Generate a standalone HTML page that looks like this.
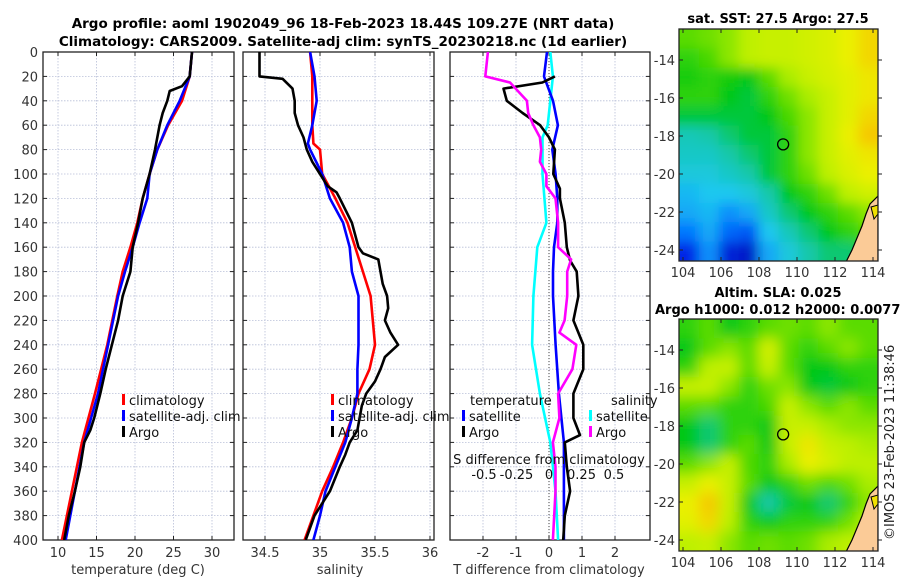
<!DOCTYPE html>
<html><head><meta charset="utf-8"><style>
html,body{margin:0;padding:0;background:#fff;}
svg{display:block;font-family:"DejaVu Sans","Liberation Sans",sans-serif;}
</style></head><body>
<svg id="fig" width="900" height="580" viewBox="0 0 900 580" xmlns="http://www.w3.org/2000/svg">
<defs>
<clipPath id="c1"><rect x="43" y="52" width="191" height="488"/></clipPath>
<clipPath id="c2"><rect x="243" y="52" width="191" height="488"/></clipPath>
<clipPath id="c3"><rect x="450" y="52" width="200" height="488"/></clipPath>
<clipPath id="cm1"><rect x="679" y="29" width="199" height="232"/></clipPath>
<clipPath id="cm2"><rect x="679" y="319" width="199" height="232"/></clipPath>
<filter id="bl1" x="-5%" y="-5%" width="110%" height="110%"><feGaussianBlur stdDeviation="6"/></filter>
<filter id="bl2" x="-5%" y="-5%" width="110%" height="110%"><feGaussianBlur stdDeviation="7"/></filter>
</defs>
<text x="343" y="28" text-anchor="middle" font-size="13.5" font-weight="bold">Argo profile: aoml 1902049_96 18-Feb-2023 18.44S 109.27E (NRT data)</text>
<text x="343" y="46" text-anchor="middle" font-size="13.5" font-weight="bold">Climatology: CARS2009. Satellite-adj clim: synTS_20230218.nc (1d earlier)</text>
<text x="778" y="23" text-anchor="middle" font-size="13" font-weight="bold">sat. SST: 27.5 Argo: 27.5</text>
<text x="778" y="297" text-anchor="middle" font-size="13" font-weight="bold">Altim. SLA: 0.025</text>
<text x="655" y="314" font-size="13" font-weight="bold">Argo h1000: 0.012 h2000: 0.0077</text>
<text transform="translate(894,540) rotate(-90)" font-size="13" fill="#222">©IMOS 23-Feb-2023 11:38:46</text>
<g id="layer"></g>
</svg>
<script>
// ---- Depth axis (shared) ----
const depthTicks = [0,20,40,60,80,100,120,140,160,180,200,220,240,260,280,300,320,340,360,380,400];
// ---- Temperature panel ----
const tempTicks = [10,15,20,25,30];
const tempDepths = [0,20,28,32,40,50,60,80,100,120,140,160,180,200,220,240,260,280,300,310,320,340,360,380,400];
const tempArgo = [27.4,27.1,26.1,24.5,24.2,23.6,23.2,22.6,21.9,21.0,20.4,19.7,19.4,18.4,17.8,17.0,16.2,15.5,14.7,14.2,13.4,12.9,12.2,11.4,10.8];
const tempClimDepths = [0,20,40,60,80,100,120,140,160,180,200,240,280,320,360,400];
const tempClim = [27.4,27.1,26.1,24.3,22.9,21.9,21.0,20.3,19.4,18.4,17.7,16.4,14.8,13.1,11.8,10.5];
const tempSat = [27.4,27.1,25.8,24.2,22.9,21.9,21.6,20.6,19.7,18.7,17.8,16.5,15.2,13.4,12.2,11.0];
// ---- Salinity panel ----
const salTicks = [34.5,35,35.5,36];
const salArgoDepths = [0,20,22,30,40,50,60,70,80,90,100,110,115,120,140,160,165,170,180,190,200,210,220,230,240,250,260,270,280,290,300,310,320,330,340,360,380,400];
const salArgo = [34.45,34.45,34.66,34.75,34.77,34.77,34.80,34.85,34.88,34.93,35.0,35.07,35.15,35.18,35.29,35.35,35.39,35.53,35.55,35.57,35.61,35.62,35.59,35.64,35.71,35.59,35.55,35.5,35.42,35.38,35.36,35.34,35.27,35.23,35.18,35.09,34.95,34.87];
const salClimDepths = [0,20,40,60,75,80,100,120,140,160,180,200,220,240,260,280,300,320,340,360,380,400];
const salClim = [34.91,34.93,34.93,34.93,34.94,35.0,35.02,35.14,35.25,35.32,35.39,35.46,35.48,35.5,35.45,35.35,35.29,35.21,35.12,35.02,34.94,34.86];
const salSat = [34.91,34.95,34.97,34.93,34.89,34.91,35.02,35.09,35.21,35.27,35.29,35.35,35.35,35.35,35.34,35.34,35.29,35.23,35.14,35.05,35.0,34.94];
// ---- Difference panel ----
const tdiffTicks = [-2,-1,0,1,2];
const sdiffTicks = [-0.5,-0.25,0,0.25,0.5];
const sdiffLabels = ["-0.5","-0.25","0","0.25","0.5"];
const tSatDepths = [0,20,40,60,80,100,120,140,160,180,200,240,280,320,360,400];
const tSatDiff = [-0.06,-0.15,0.12,0.27,0.1,0.2,0.25,0.25,0.15,0.12,0.12,0.2,0.3,0.45,0.45,0.45];
const tArgoDepths = [20,25,30,40,50,60,70,80,100,112,120,140,160,171,180,200,220,240,260,280,300,314,320,340,360,380,400];
const tArgoDiff = [0.18,-0.2,-1.38,-1.28,-0.8,-0.27,0.0,0.18,0.13,0.33,0.33,0.48,0.54,0.64,0.84,0.89,0.74,1.04,1.04,0.74,0.74,0.94,0.48,0.54,0.64,0.48,0.43];
const sArgoDepths = [0,20,25,40,50,60,70,80,90,100,110,120,140,160,170,180,200,220,230,240,260,280,300,320,340,360,400];
const sArgoDiff = [-0.47,-0.49,-0.3,-0.17,-0.16,-0.12,-0.07,-0.06,-0.07,-0.02,-0.02,0.05,0.07,0.07,0.17,0.14,0.14,0.12,0.08,0.21,0.18,0.07,0.08,0.03,0.05,0.05,0.03];
const sSatDepths = [0,20,40,60,70,80,100,140,160,200,240,280,320,360,400];
const sSatDiff = [0.01,0.03,0.01,-0.01,-0.05,-0.05,-0.05,-0.02,-0.09,-0.12,-0.13,-0.07,0.01,0.05,0.07];
// ---- Maps (heatmap cells, rows lat -13..-24, cols lon 104..114) ----
const sstGrid = [
[.60,.62,.65,.70,.72,.72,.74,.76,.80,.85],
[.55,.58,.65,.70,.72,.72,.74,.76,.80,.85],
[.52,.55,.52,.50,.60,.68,.72,.75,.78,.82],
[.55,.55,.50,.48,.55,.62,.68,.72,.78,.82],
[.48,.48,.48,.48,.50,.58,.65,.72,.78,.85],
[.40,.42,.45,.48,.48,.55,.65,.72,.80,.88],
[.38,.38,.42,.45,.48,.55,.65,.72,.78,.82],
[.35,.35,.38,.42,.48,.55,.62,.70,.76,.80],
[.30,.32,.32,.35,.42,.50,.55,.62,.70,.74],
[.28,.30,.25,.28,.38,.45,.50,.55,.60,.65],
[.22,.28,.20,.18,.32,.40,.45,.50,.55,.60],
[.12,.25,.10,.08,.28,.35,.42,.45,.45,.50]];
const slaGrid = [
[.55,.60,.50,.55,.60,.62,.60,.65,.60,.60],
[.50,.60,.65,.60,.75,.60,.55,.60,.65,.60],
[.55,.70,.72,.60,.72,.60,.50,.50,.55,.55],
[.72,.72,.65,.55,.62,.65,.50,.48,.50,.55],
[.60,.60,.55,.55,.58,.72,.65,.60,.65,.60],
[.50,.45,.55,.55,.50,.72,.72,.68,.65,.65],
[.50,.45,.55,.60,.50,.72,.82,.72,.70,.68],
[.60,.65,.72,.58,.55,.68,.80,.75,.70,.70],
[.72,.80,.72,.60,.50,.55,.62,.58,.62,.68],
[.80,.88,.72,.50,.42,.48,.50,.45,.55,.65],
[.78,.85,.70,.55,.50,.55,.55,.55,.62,.70],
[.70,.72,.65,.60,.62,.60,.62,.68,.70,.70]];
const lonTicks = [104,106,108,110,112,114];
const latTicks = [-14,-16,-18,-20,-22,-24];
const argoLon = 109.27, argoLat = -18.44;

const NS="http://www.w3.org/2000/svg";
const L=document.getElementById('layer');
function mk(tag,attrs,parent){const e=document.createElementNS(NS,tag);for(const k in attrs)e.setAttribute(k,attrs[k]);(parent||L).appendChild(e);return e;}
function txt(x,y,s,size,anchor,parent,fill){const t=mk('text',{x:x,y:y,'font-size':size,'text-anchor':anchor||'middle',fill:fill||'#333'},parent);t.textContent=s;return t;}
const Y0=52,Y1=540;
const yD=d=>Y0+d*(Y1-Y0)/400;
const xT=t=>58+(t-10)*7.7;
const xS=s=>265+(s-34.5)*110;
const xTd=v=>549+v*33;
const xSd=v=>549+v*130;

function panel(x0,w,name,xticks,xf,labels){
  const g=mk('g',{});
  
  
  depthTicks.forEach(d=>{const y=yD(d);mk('line',{x1:x0,x2:x0+w,y1:y,y2:y,stroke:'#b8bfd8','stroke-width':0.8,'stroke-dasharray':'1.5,1.5'},g);
    mk('line',{x1:x0,x2:x0+4,y1:y,y2:y,stroke:'#222','stroke-width':1},g);mk('line',{x1:x0+w-4,x2:x0+w,y1:y,y2:y,stroke:'#222','stroke-width':1},g);});
  xticks.forEach((t,i)=>{const x=xf(t);mk('line',{x1:x,x2:x,y1:Y0,y2:Y1,stroke:'#b8bfd8','stroke-width':0.8,'stroke-dasharray':'1.5,1.5'},g);
    mk('line',{x1:x,x2:x,y1:Y0,y2:Y0+4,stroke:'#222'},g);mk('line',{x1:x,x2:x,y1:Y1-4,y2:Y1,stroke:'#222'},g);
    const tl=txt(x,557,labels?labels[i]:String(t),13,'middle',g);
    
    });
  mk('rect',{x:x0,y:Y0,width:w,height:Y1-Y0,fill:'none',stroke:'#222','stroke-width':1.3},g);
  return g;
}
function line(depths,vals,xf,color,clip,name,wd){
  const p=mk('polyline',{points:depths.map((d,i)=>xf(vals[i]).toFixed(1)+','+yD(d).toFixed(1)).join(' '),fill:'none',stroke:color,'stroke-width':wd||2.6,'stroke-linejoin':'round','clip-path':'url(#'+clip+')'});
  
  
}
depthTicks.forEach(d=>{const t=txt(38,yD(d)+5,String(d),13,'end');
  
  });
panel(43,191,'temperature-panel',tempTicks,xT);
panel(243,191,'salinity-panel',salTicks,xS);
panel(450,200,'difference-panel',tdiffTicks,xTd);
mk('line',{x1:549,x2:549,y1:Y0,y2:Y1,stroke:'#444','stroke-width':1,'stroke-dasharray':'1,2'});

line(tempClimDepths,tempClim,xT,'#ff0000','c1','temp-climatology-line');
line(tempClimDepths,tempSat,xT,'#0000ff','c1','temp-satellite-line');
line(tempDepths,tempArgo,xT,'#000','c1','temp-argo-line');
line(salClimDepths,salClim,xS,'#ff0000','c2','sal-climatology-line');
line(salClimDepths,salSat,xS,'#0000ff','c2','sal-satellite-line');
line(salArgoDepths,salArgo,xS,'#000','c2','sal-argo-line');
line(sSatDepths,sSatDiff,xSd,'#00ffff','c3','s-satellite-diff-line');
line(tSatDepths,tSatDiff,xTd,'#0000ff','c3','t-satellite-diff-line');
line(tArgoDepths,tArgoDiff,xTd,'#000','c3','t-argo-diff-line');
line(sArgoDepths,sArgoDiff,xSd,'#ff00ff','c3','s-argo-diff-line');

function legendEntry(x,y,color,label,name){
  const g=mk('g',{});
  
  
  mk('rect',{x:x,y:y-11,width:3,height:11,fill:color},g);
  txt(x+7,y,label,13,'start',g,'#111');
}
legendEntry(122,405,'#ff0000','climatology','legend-climatology');
legendEntry(122,421,'#0000ff','satellite-adj. clim','legend-satellite');
legendEntry(122,437,'#000','Argo','legend-argo');
legendEntry(331,405,'#ff0000','climatology','legend-climatology-sal');
legendEntry(331,421,'#0000ff','satellite-adj. clim','legend-satellite-sal');
legendEntry(331,437,'#000','Argo','legend-argo-sal');
txt(470,405,'temperature',13,'start',null,'#111');
txt(611,405,'salinity',13,'start',null,'#111');
legendEntry(462,421,'#0000ff','satellite','legend-t-satellite');
legendEntry(462,437,'#000','Argo','legend-t-argo');
legendEntry(589,421,'#00ffff','satellite','legend-s-satellite');
legendEntry(589,437,'#ff00ff','Argo','legend-s-argo');
txt(549,464,'S difference from climatology',13,'middle',null,'#111');
sdiffTicks.forEach((v,i)=>{const t=txt(xSd(v),479,sdiffLabels[i],13,'middle',null,'#111');
  
  });
txt(138,574,'temperature (deg C)',13,'middle',null,'#333');
txt(340,574,'salinity',13,'middle',null,'#333');
txt(549,574,'T difference from climatology',13,'middle',null,'#333');

const cmStops=[[0,[0,0,140]],[0.12,[0,40,230]],[0.22,[0,120,255]],[0.32,[30,200,240]],[0.42,[20,200,170]],[0.5,[0,200,20]],[0.6,[90,220,0]],[0.7,[190,240,0]],[0.8,[235,240,0]],[0.9,[248,190,0]],[1,[240,120,0]]];
function cmap(v){for(let i=1;i<cmStops.length;i++){if(v<=cmStops[i][0]){const a=cmStops[i-1],b=cmStops[i],f=(v-a[0])/(b[0]-a[0]);return 'rgb('+a[1].map((c,k)=>Math.round(c+(b[1][k]-c)*f)).join(',')+')';}}return 'rgb(240,120,0)';}
function mapPanel(y0,grid,clip,blur,name,latY){
  const x0=679,w=199,h=232;
  const g=mk('g',{'clip-path':'url(#'+clip+')'});
  
  
  const cells=mk('g',{filter:'url(#'+blur+')'},g);
  const rows=grid.length,cols=grid[0].length,cw=w/cols,ch=h/rows;
  grid.forEach((row,r)=>row.forEach((v,c)=>{
    const x=x0+c*cw-(c===0?25:0),y=y0+r*ch-(r===0?25:0);
    const ww=cw+1+(c===0?25:0)+(c===cols-1?25:0),hh=ch+1+(r===0?25:0)+(r===rows-1?25:0);
    const cell=mk('rect',{x:x.toFixed(1),y:y.toFixed(1),width:ww.toFixed(1),height:hh.toFixed(1),fill:cmap(v)},cells);
    
    
  }));
  const dy=y0-29;
  mk('polygon',{points:`878,${196+dy} 870,${204+dy} 866,${214+dy} 862,${226+dy} 857,${238+dy} 852,${250+dy} 846,${262+dy} 878,${262+dy}`,fill:'#fbcb97',stroke:'#000','stroke-width':1.2},g);
  mk('polygon',{points:`871,${207+dy} 878,${205+dy} 878,${214+dy} 874,${219+dy}`,fill:'#f0e000',stroke:'#000','stroke-width':1},g);
  mk('rect',{x:x0,y:y0,width:w,height:h,fill:'none',stroke:'#222','stroke-width':1.3});
  const lonX=lo=>683+(lo-104)*19.0;
  lonTicks.forEach(lo=>{const x=lonX(lo);mk('line',{x1:x,x2:x,y1:y0+h,y2:y0+h-4,stroke:'#222'});mk('line',{x1:x,x2:x,y1:y0,y2:y0+4,stroke:'#222'});
    const t=txt(x,y0+h+16,String(lo),13,'middle');
    
    });
  latTicks.forEach(la=>{const y=latY(la);mk('line',{x1:x0,x2:x0+4,y1:y,y2:y,stroke:'#222'});mk('line',{x1:x0+w,x2:x0+w+4,y1:y,y2:y,stroke:'#222'});
    const t=txt(x0-4,y+5,String(la),13,'end');
    
    });
  const m=mk('circle',{cx:lonX(argoLon),cy:latY(argoLat),r:5.5,fill:'none',stroke:'#000','stroke-width':1.3});
  
  
}
mapPanel(29,sstGrid,'cm1','bl1','sst-map',la=>60+(-14-la)*19.0);
mapPanel(319,slaGrid,'cm2','bl2','sla-map',la=>350+(-14-la)*19.0);
</script>
</body></html>
